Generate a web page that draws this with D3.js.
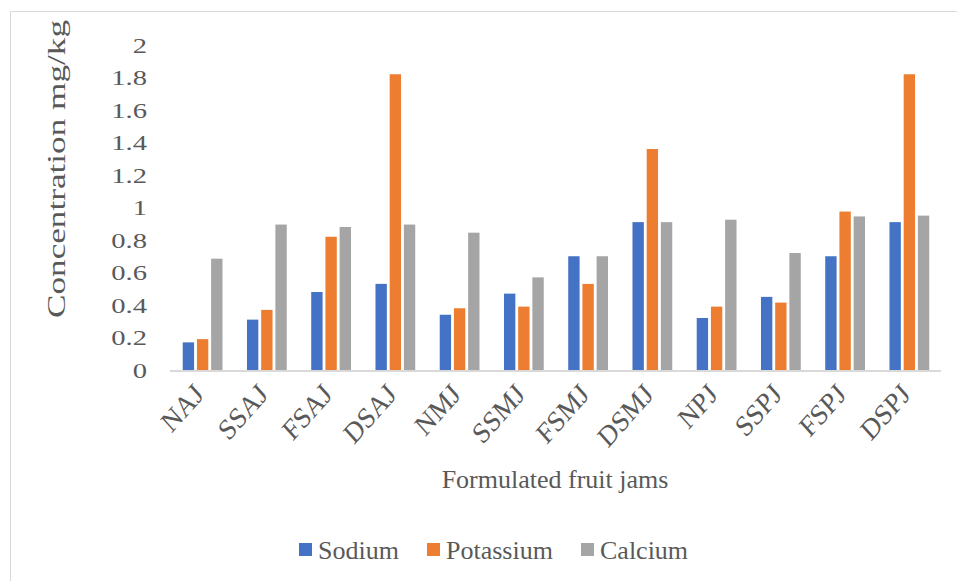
<!DOCTYPE html>
<html><head><meta charset="utf-8">
<script src="https://cdn.jsdelivr.net/npm/d3@7"></script>
<style>
html,body{margin:0;padding:0;background:#fff;}
svg{display:block;}
svg text{font-family:"Liberation Serif","Times New Roman",serif;fill:#595959;}
</style></head>
<body>
<svg id="chart" width="957" height="581" font-family="Liberation Serif, Times New Roman, serif"></svg>
<script>
const categories = ["NAJ","SSAJ","FSAJ","DSAJ","NMJ","SSMJ","FSMJ","DSMJ","NPJ","SSPJ","FSPJ","DSPJ"];
const seriesNames = ["Sodium","Potassium","Calcium"];
const sodium    = [0.17,0.31,0.48,0.53,0.34,0.47,0.70,0.91,0.32,0.45,0.70,0.91];
const potassium = [0.19,0.37,0.82,1.82,0.38,0.39,0.53,1.36,0.39,0.415,0.975,1.82];
const calcium   = [0.685,0.895,0.88,0.895,0.845,0.57,0.70,0.91,0.925,0.72,0.945,0.95];
const yTickValues = [0,0.2,0.4,0.6,0.8,1,1.2,1.4,1.6,1.8,2];
const yTickLabels = ["0","0.2","0.4","0.6","0.8","1","1.2","1.4","1.6","1.8","2"];
const colors = ["#4472C4","#ED7D31","#A5A5A5"];

const seriesValues = [sodium, potassium, calcium];
const svg = d3.select("#chart");

// chart border (only top and left visible in reference)
svg.append("rect").attr("x",10.5).attr("y",11.5).attr("width",1000).attr("height",1000)
  .attr("fill","none").attr("stroke","#d9d9d9").attr("stroke-width",1);

const x0 = d3.scaleBand().domain(categories).range([170,941]).padding(0);
const bw = x0.bandwidth();
const x1 = d3.scaleBand().domain(seriesNames).range([bw*0.198, bw*0.817]).paddingInner(0.2).paddingOuter(0);
const y = d3.scaleLinear().domain([0,2]).range([370,45]);

// bars
const g = svg.append("g");
categories.forEach((c,i)=>{
  seriesNames.forEach((s,j)=>{
    const v = seriesValues[j][i];
    g.append("rect")
      .attr("x", x0(c)+x1(s))
      .attr("y", y(v))
      .attr("width", x1.bandwidth())
      .attr("height", y(0)-y(v))
      .attr("fill", colors[j]);
  });
});

// x axis line
svg.append("line").attr("x1",170).attr("x2",941).attr("y1",y(0)+1).attr("y2",y(0)+1)
  .attr("stroke","#d9d9d9").attr("stroke-width",2);

// y axis
const yAxis = d3.axisLeft(y).tickValues(yTickValues).tickFormat((d,i)=>yTickLabels[i]).tickSize(0).tickPadding(23);
const ya = svg.append("g").attr("transform","translate(170,0)").call(yAxis);
ya.attr("font-family",null);
ya.select(".domain").remove();
ya.selectAll("text").attr("font-size",22).attr("fill","#595959")
  .each(function(){ const L=this.getComputedTextLength(); d3.select(this).attr("textLength",L*1.3).attr("lengthAdjust","spacingAndGlyphs"); });

// x labels
categories.forEach(c=>{
  const cx = x0(c)+bw/2+3;
  svg.append("text").attr("transform",`translate(${cx},396) scale(1,1.12) rotate(-45)`)
    .attr("text-anchor","end").attr("font-size",26).text(c);
});

// axis titles
svg.append("text").attr("x",555).attr("y",488).attr("text-anchor","middle").attr("font-size",26).text("Formulated fruit jams");
svg.append("text").attr("transform","translate(65,169) rotate(-90)").attr("text-anchor","middle").attr("font-size",25)
  .attr("textLength",298).attr("lengthAdjust","spacingAndGlyphs").text("Concentration mg/kg");

// legend
const legendX = [299,427,581];
seriesNames.forEach((s,j)=>{
  svg.append("rect").attr("x",legendX[j]).attr("y",543).attr("width",13).attr("height",13).attr("fill",colors[j]);
  svg.append("text").attr("x",legendX[j]+19).attr("y",559).attr("font-size",26).text(s);
});
</script>
</body></html>
